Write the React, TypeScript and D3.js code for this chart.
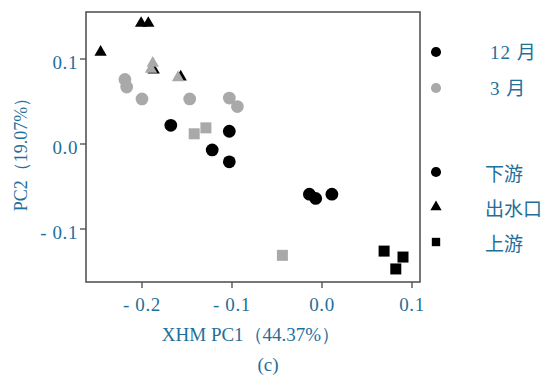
import React from 'react';
import * as d3 from 'd3';

// PCA scores: [PC1, PC2]
const decDownstream: number[][] = [
  [-0.168, 0.022], [-0.103, 0.015], [-0.122, -0.007], [-0.103, -0.021],
  [-0.014, -0.059], [-0.007, -0.064], [0.011, -0.059],
];
const decOutlet: number[][] = [
  [-0.246, 0.108], [-0.201, 0.142], [-0.193, 0.142], [-0.187, 0.087], [-0.157, 0.079],
];
const decUpstream: number[][] = [[0.069, -0.126], [0.09, -0.133], [0.082, -0.147]];

const marDownstream: number[][] = [
  [-0.219, 0.076], [-0.217, 0.067], [-0.2, 0.053], [-0.147, 0.053], [-0.103, 0.054], [-0.094, 0.044],
];
const marOutlet: number[][] = [[-0.188, 0.095], [-0.19, 0.088], [-0.16, 0.078]];
const marUpstream: number[][] = [[-0.142, 0.012], [-0.129, 0.019], [-0.044, -0.131]];

const xTicks = [-0.2, -0.1, 0.0, 0.1];
const yTicks = [-0.1, 0.0, 0.1];
const monthLabels = ['12 月', '3 月'];
const siteLabels = ['下游', '出水口', '上游'];

const W = 548;
const H = 377;
const LEFT = 86;
const RIGHT = 420;
const TOP = 12;
const BOTTOM = 282;
const BLUE = '#1f6f9b';
const BLACK = '#000';
const GREY = '#a9a9a9';
const SERIF = "'Liberation Serif', 'Times New Roman', Times, serif";
const CJK = "'Noto Sans CJK SC', sans-serif";

const fmt = (v: number) => (v < 0 ? `- ${Math.abs(v).toFixed(1)}` : v.toFixed(1));

const sym = {
  circle: d3.symbol().type(d3.symbolCircle).size(128)(),
  triangle: d3.symbol().type(d3.symbolTriangle).size(66)(),
  square: d3.symbol().type(d3.symbolSquare).size(121)(),
};

function App() {
  const x = d3.scaleLinear().domain([-0.2, 0.1]).range([142, 412]);
  const y = d3.scaleLinear().domain([0, 0.1]).range([144, 59]);

  const groups: { data: number[][]; shape: keyof typeof sym; fill: string }[] = [
    { data: decOutlet, shape: 'triangle', fill: BLACK },
    { data: decDownstream, shape: 'circle', fill: BLACK },
    { data: decUpstream, shape: 'square', fill: BLACK },
    { data: marDownstream, shape: 'circle', fill: GREY },
    { data: marOutlet, shape: 'triangle', fill: GREY },
    { data: marUpstream, shape: 'square', fill: GREY },
  ];

  return (
    <svg
      width={W}
      height={H}
      viewBox={`0 0 ${W} ${H}`}
      style={{ position: 'absolute', left: 0, top: 0, background: '#fff' }}
    >
      <rect
        x={LEFT}
        y={TOP}
        width={RIGHT - LEFT}
        height={BOTTOM - TOP}
        fill="none"
        stroke="#555"
        strokeWidth={1.6}
      />

      {/* x axis */}
      {xTicks.map((t) => (
        <g key={`x${t}`} transform={`translate(${x(t)},${BOTTOM})`}>
          <line y1={0} y2={6} stroke="#555" strokeWidth={1.4} />
          <text
            y={29}
            textAnchor="middle"
            fontFamily={SERIF}
            fontSize={19}
            fill={BLUE}
            letterSpacing={0.6}
          >
            {fmt(t)}
          </text>
        </g>
      ))}

      {/* y axis */}
      {yTicks.map((t) => (
        <g key={`y${t}`} transform={`translate(${LEFT},${y(t)})`}>
          <line x1={-6} x2={0} stroke="#555" strokeWidth={1.4} />
          <text
            x={-8}
            y={10}
            textAnchor="end"
            fontFamily={SERIF}
            fontSize={19}
            fill={BLUE}
            letterSpacing={0.6}
          >
            {fmt(t)}
          </text>
        </g>
      ))}

      <text x={251} y={341} textAnchor="middle" fontFamily={SERIF} fontSize={19} fill={BLUE}>
        XHM PC1（44.37%）
      </text>
      <text
        transform="translate(27,150) rotate(-90)"
        textAnchor="middle"
        fontFamily={SERIF}
        fontSize={18}
        fill={BLUE}
      >
        PC2（19.07%）
      </text>
      <text x={268} y={371} textAnchor="middle" fontFamily={SERIF} fontSize={19} fill={BLUE}>
        (c)
      </text>

      {/* points */}
      {groups.map((g, gi) => (
        <g key={`g${gi}`}>
          {g.data.map((d, i) => (
            <path
              key={i}
              d={sym[g.shape]!}
              transform={`translate(${x(d[0])},${y(d[1])})`}
              fill={g.fill}
            />
          ))}
        </g>
      ))}

      {/* legend: months */}
      {monthLabels.map((m, i) => (
        <g key={m} transform={`translate(436,${52 + i * 36})`}>
          <path d={d3.symbol().type(d3.symbolCircle).size(80)()!} fill={i === 0 ? BLACK : GREY} />
          <text x={54} y={7} fontFamily={`${SERIF}, ${CJK}`} fontSize={19} fill={BLUE} letterSpacing={1}>
            {m}
          </text>
        </g>
      ))}

      {/* legend: sites */}
      {siteLabels.map((s, i) => {
        const shape = [d3.symbolCircle, d3.symbolTriangle, d3.symbolSquare][i];
        const size = [80, 55, 70][i];
        return (
          <g key={s} transform={`translate(436,${172 + i * 35})`}>
            <path d={d3.symbol().type(shape).size(size)()!} fill={BLACK} />
            <text x={49} y={9} fontFamily={CJK} fontSize={19} fill={BLUE}>
              {s}
            </text>
          </g>
        );
      })}
    </svg>
  );
}

export default App;
